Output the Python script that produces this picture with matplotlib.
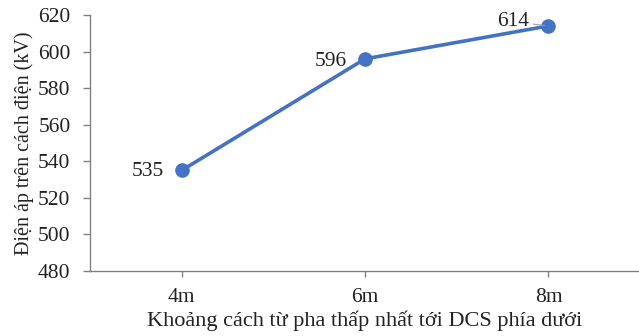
import matplotlib
matplotlib.use("Agg")
import matplotlib.pyplot as plt

categories = ["4m", "6m", "8m"]
voltages = [535, 596, 614]
y_ticks = [480, 500, 520, 540, 560, 580, 600, 620]

plt.rcParams["font.family"] = ["Liberation Serif", "DejaVu Serif"]

fig = plt.figure(figsize=(6.39, 3.36), dpi=100)
ax = fig.add_axes([0.1408, 0.1935, 0.861, 0.762])

x = list(range(len(categories)))
color = "#4472C4"
ax.plot(x, voltages, color=color, lw=2.6, marker="o", ms=9.5,
        solid_capstyle="round", zorder=3)

ax.set_xlim(-0.5, 2.5)
ax.set_ylim(480, 620)
ax.set_yticks(y_ticks)
ax.set_xticks(x)
ax.set_xticklabels(categories)

for side in ("top", "right"):
    ax.spines[side].set_visible(False)
for side in ("left", "bottom"):
    ax.spines[side].set_color("#808080")
    ax.spines[side].set_linewidth(1.0)
ax.tick_params(axis="both", colors="#808080", labelcolor="#222222",
               labelsize=15.5, width=1.0)
ax.tick_params(axis="x", length=4, pad=8)
ax.tick_params(axis="y", length=5, pad=9)

ax.set_xlabel("Khoảng cách từ pha thấp nhất tới DCS phía dưới",
              fontsize=16, color="#222222", labelpad=3)
ax.set_ylabel("Điện áp trên cách điện (kV)", fontsize=14.5,
              color="#222222", labelpad=3)

# value labels beside each point
ax.annotate(f"{voltages[0]}", (x[0], voltages[0]), xytext=(-13, -1),
            textcoords="offset points", ha="right", va="center",
            fontsize=15.5, color="#222222")
ax.annotate(f"{voltages[1]}", (x[1], voltages[1]), xytext=(-13, -2),
            textcoords="offset points", ha="right", va="center",
            fontsize=15.5, color="#222222")
ax.annotate(f"{voltages[2]}", (x[2], voltages[2]), xytext=(-14, 3),
            textcoords="offset points", ha="right", va="center",
            fontsize=15.5, color="#222222",
            arrowprops=dict(arrowstyle="-", color="#A0A0A0", lw=0.8,
                            shrinkA=1, shrinkB=3))

fig.savefig("out.png", dpi=100)
